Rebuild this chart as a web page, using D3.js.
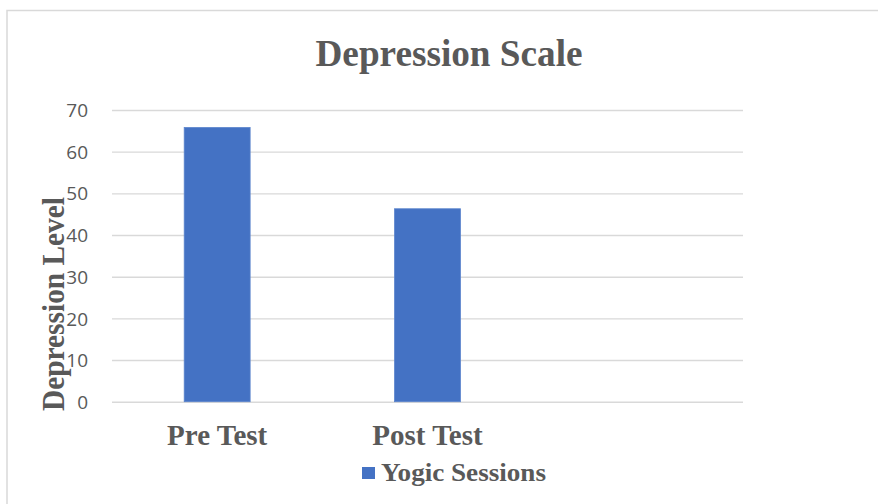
<!DOCTYPE html>
<html>
<head>
<meta charset="utf-8">
<script src="https://cdn.jsdelivr.net/npm/d3@7"></script>
<style>
  html, body { margin: 0; padding: 0; background: #fff; }
  svg { display: block; }
</style>
</head>
<body>
<svg id="chart" width="878" height="504"></svg>
<script>
const categories = ["Pre Test", "Post Test", ""];
const values = [65.8, 46.3];
const yTicks = [0, 10, 20, 30, 40, 50, 60, 70];
const seriesName = "Yogic Sessions";
const chartTitle = "Depression Scale";
const yTitle = "Depression Level";

const svg = d3.select("#chart");
const W = 878, H = 504;
const textColor = "#595959";
const barColor = "#4472C4";
const gridColor = "#d9d9d9";
const serif = "'Liberation Serif', 'Times New Roman', serif";

svg.append("rect").attr("x", 0).attr("y", 0).attr("width", W).attr("height", H).attr("fill", "#fff");
svg.append("rect").attr("x", 7).attr("y", 10.5).attr("width", 900).attr("height", 520)
  .attr("fill", "none").attr("stroke", gridColor).attr("stroke-width", 1.5);

const plot = { left: 112, right: 743, top: 110, bottom: 401.7 };

const x = d3.scaleBand().domain(categories).range([plot.left, plot.right]).padding(0);
const y = d3.scaleLinear().domain([0, 70]).range([plot.bottom, plot.top]);

// gridlines + y tick labels
const yAxis = d3.axisLeft(y).tickValues(yTicks).tickSize(-(plot.right - plot.left)).tickPadding(24).tickFormat(d3.format("d"));
const gy = svg.append("g").attr("transform", `translate(${plot.left},0)`).call(yAxis);
gy.select(".domain").remove();
gy.selectAll(".tick line").attr("stroke", gridColor).attr("stroke-width", 1.4);
gy.selectAll(".tick text")
  .attr("fill", textColor)
  .style("font-family", "'Open Sans', sans-serif")
  .style("font-size", "19px")
  .attr("dy", "0.35em");

// bars
const barW = x.bandwidth() / 3.19;
svg.append("g").selectAll("rect").data(values).join("rect")
  .attr("x", (d, i) => x(categories[i]) + x.bandwidth() / 2 - barW / 2)
  .attr("y", d => y(d))
  .attr("width", barW)
  .attr("height", d => y(0) - y(d))
  .attr("fill", barColor)
  .attr("stroke", "#5b84cc")
  .attr("stroke-width", 0.8);

// category labels
svg.append("g").selectAll("text").data(categories.filter(c => c)).join("text")
  .attr("x", d => x(d) + x.bandwidth() / 2)
  .attr("y", 445)
  .attr("text-anchor", "middle")
  .attr("fill", textColor)
  .style("font-family", serif)
  .style("font-weight", "bold")
  .style("font-size", "29px")
  .text(d => d);

// title
svg.append("text")
  .attr("x", 449).attr("y", 66)
  .attr("text-anchor", "middle")
  .attr("fill", textColor)
  .style("font-family", serif).style("font-weight", "bold").style("font-size", "37px")
  .attr("textLength", 267).attr("lengthAdjust", "spacingAndGlyphs")
  .text(chartTitle);

// y axis title
svg.append("text")
  .attr("transform", "translate(63.5,304) rotate(-90)")
  .attr("text-anchor", "middle")
  .attr("fill", textColor)
  .style("font-family", serif).style("font-weight", "bold").style("font-size", "31px")
  .attr("textLength", 214).attr("lengthAdjust", "spacingAndGlyphs")
  .text(yTitle);

// legend
const lg = svg.append("g");
lg.append("rect").attr("x", 362).attr("y", 467).attr("width", 13).attr("height", 12).attr("fill", barColor);
lg.append("text").attr("x", 381).attr("y", 481)
  .attr("fill", textColor)
  .style("font-family", serif).style("font-weight", "bold").style("font-size", "26px")
  .attr("textLength", 165).attr("lengthAdjust", "spacingAndGlyphs")
  .text(seriesName);
</script>
</body>
</html>
